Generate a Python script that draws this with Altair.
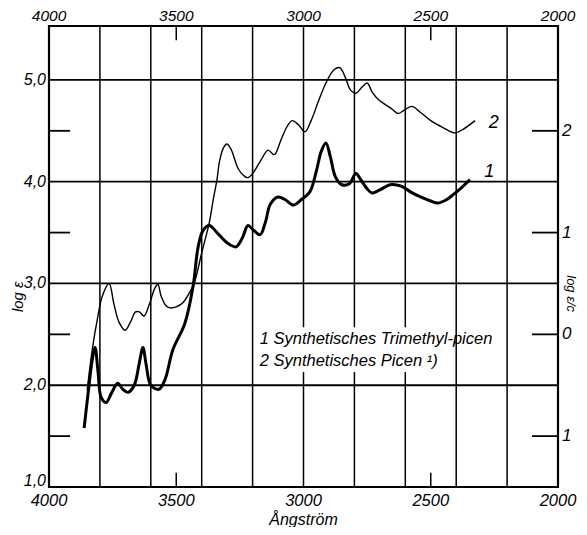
import altair as alt
import pandas as pd

# ---- data ----
# Curve 1: Synthetisches Trimethyl-picen (thick)
wl1 = [3862, 3845, 3830, 3819, 3808, 3795, 3776, 3755, 3730, 3710, 3690, 3665, 3645, 3631,
       3618, 3600, 3568, 3545, 3513, 3466, 3434, 3414, 3395, 3370, 3340, 3300, 3265, 3240,
       3218, 3195, 3170, 3150, 3130, 3100, 3070, 3040, 3010, 2975, 2950, 2930, 2912, 2895,
       2875, 2850, 2820, 2794, 2775, 2750, 2731, 2700, 2660, 2640, 2610, 2580, 2540, 2500,
       2472, 2440, 2413, 2380, 2346]
le1 = [1.58, 1.95, 2.25, 2.37, 2.15, 1.88, 1.83, 1.92, 2.02, 1.96, 1.93, 2.00, 2.22, 2.37,
       2.20, 2.00, 1.96, 2.05, 2.35, 2.61, 2.97, 3.36, 3.52, 3.57, 3.50, 3.40, 3.36, 3.45,
       3.57, 3.52, 3.48, 3.60, 3.78, 3.85, 3.82, 3.77, 3.82, 3.90, 4.10, 4.30, 4.38, 4.25,
       4.05, 3.97, 3.98, 4.08, 4.02, 3.93, 3.89, 3.92, 3.97, 3.97, 3.95, 3.90, 3.85, 3.81,
       3.79, 3.82, 3.87, 3.94, 4.02]

# Curve 2: Synthetisches Picen (thin)
wl2 = [3850, 3830, 3810, 3790, 3764, 3745, 3725, 3701, 3680, 3660, 3645, 3627, 3605, 3585,
       3572, 3560, 3540, 3525, 3500, 3474, 3450, 3430, 3400, 3370, 3355, 3340, 3330, 3315,
       3301, 3285, 3255, 3230, 3218, 3200, 3170, 3139, 3120, 3112, 3090, 3065, 3045, 3020,
       2994, 2970, 2940, 2910, 2880, 2857, 2835, 2815, 2794, 2770, 2750, 2730, 2707, 2680,
       2650, 2629, 2600, 2574, 2540, 2500, 2450, 2405, 2370, 2326]
le2 = [1.95, 2.35, 2.65, 2.88, 3.00, 2.80, 2.62, 2.54, 2.62, 2.72, 2.72, 2.68, 2.80, 2.95,
       2.99, 2.88, 2.78, 2.76, 2.77, 2.81, 2.90, 3.00, 3.30, 3.60, 3.82, 4.02, 4.20, 4.33,
       4.37, 4.32, 4.12, 4.05, 4.04, 4.08, 4.20, 4.31, 4.27, 4.27, 4.40, 4.54, 4.60, 4.56,
       4.49, 4.60, 4.80, 4.98, 5.10, 5.12, 5.02, 4.90, 4.87, 4.93, 4.97, 4.88, 4.81, 4.76,
       4.71, 4.67, 4.71, 4.74, 4.68, 4.60, 4.53, 4.48, 4.52, 4.60]

x_label_values = [4000, 3500, 3000, 2500, 2000]
x_label_texts = ["4000", "3500", "3000", "2500", "2000"]
y_label_values = [2.0, 3.0, 4.0, 5.0]
y_label_texts = ["2,0", "3,0", "4,0", "5,0"]
y_bottom_value = [1.0]
y_bottom_text = ["1,0"]
right_values = [4.5, 3.5, 2.5, 1.5]
right_texts = ["2", "1", "0", "1"]
grid_x = [3800, 3600, 3400, 3200, 3000, 2800, 2600, 2400, 2200]
grid_y = [2.0, 3.0, 4.0, 5.0]
minor_y = [1.5, 2.5, 3.5, 4.5]
short_x = [3500, 2500]
legend_texts = ["1 Synthetisches Trimethyl-picen", "2 Synthetisches Picen \u00b9)"]
legend_y = [2.455, 2.24]
legend_x = 3172
curve_label_texts = ["1", "2"]
curve_label_x = [2290, 2272]
curve_label_y = [4.10, 4.58]

XMIN, XMAX = 4000, 2000
YMIN, YMAX = 1.0, 5.53
FONT = "Liberation Sans"

xs = alt.Scale(domain=[XMIN, XMAX], nice=False, zero=False)
ys = alt.Scale(domain=[YMIN, YMAX], nice=False, zero=False)


def X(f):
    return alt.X(f, type="quantitative", scale=xs, axis=None)


def Y(f):
    return alt.Y(f, type="quantitative", scale=ys, axis=None)


# grid
vgrid = pd.DataFrame({"x": grid_x, "y": [YMIN] * len(grid_x), "y2": [YMAX] * len(grid_x)})
hgrid = pd.DataFrame({"y": grid_y, "x": [XMIN] * len(grid_y), "x2": [XMAX] * len(grid_y)})
lminor = pd.DataFrame({"y": minor_y, "x": [XMIN] * 4, "x2": [3917] * 4})
rminor = pd.DataFrame({"y": minor_y, "x": [2102] * 4, "x2": [XMAX] * 4})
sticks = pd.DataFrame({
    "x": short_x * 2,
    "y": [YMAX, YMAX, YMIN, YMIN],
    "y2": [YMAX - 0.14, YMAX - 0.14, YMIN + 0.14, YMIN + 0.14],
})

rule_v = alt.Chart(vgrid).mark_rule(color="black", strokeWidth=1.5).encode(x=X("x"), y=Y("y"), y2="y2")
rule_h = alt.Chart(hgrid).mark_rule(color="black", strokeWidth=1.8).encode(y=Y("y"), x=X("x"), x2="x2")
rule_lm = alt.Chart(lminor).mark_rule(color="black", strokeWidth=1.8).encode(y=Y("y"), x=X("x"), x2="x2")
rule_rm = alt.Chart(rminor).mark_rule(color="black", strokeWidth=1.8).encode(y=Y("y"), x=X("x"), x2="x2")
rule_s = alt.Chart(sticks).mark_rule(color="black", strokeWidth=1.5).encode(x=X("x"), y=Y("y"), y2="y2")

# white box behind legend text
box = alt.Chart(pd.DataFrame({"x": [3180], "x2": [2420], "y": [2.13], "y2": [2.57]})).mark_rect(
    color="white").encode(x=X("x"), x2="x2", y=Y("y"), y2="y2")

# curves
d1 = pd.DataFrame({"w": wl1, "v": le1, "o": list(range(len(wl1)))})
d2 = pd.DataFrame({"w": wl2, "v": le2, "o": list(range(len(wl2)))})
c1 = alt.Chart(d1).mark_line(color="black", strokeWidth=3, interpolate="catmull-rom").encode(
    x=X("w"), y=Y("v"), order="o:Q")
c2 = alt.Chart(d2).mark_line(color="black", strokeWidth=1.4, interpolate="catmull-rom").encode(
    x=X("w"), y=Y("v"), order="o:Q")

# text
txt = dict(font=FONT, fontStyle="italic", color="black")
xl_top = alt.Chart(pd.DataFrame({"x": x_label_values, "t": x_label_texts, "y": [YMAX] * 5})).mark_text(
    fontSize=15.5, baseline="alphabetic", dy=-5, **txt).encode(x=X("x"), y=Y("y"), text="t")
xl_bot = alt.Chart(pd.DataFrame({"x": x_label_values, "t": x_label_texts, "y": [YMIN] * 5})).mark_text(
    fontSize=16.5, baseline="alphabetic", dy=19, **txt).encode(x=X("x"), y=Y("y"), text="t")
yl = alt.Chart(pd.DataFrame({"y": y_label_values, "t": y_label_texts, "x": [XMIN] * 4})).mark_text(
    fontSize=16, align="right", baseline="middle", dx=-3, **txt).encode(x=X("x"), y=Y("y"), text="t")
yl1 = alt.Chart(pd.DataFrame({"y": y_bottom_value, "t": y_bottom_text, "x": [XMIN]})).mark_text(
    fontSize=16, align="right", baseline="bottom", dx=-3, dy=2, **txt).encode(x=X("x"), y=Y("y"), text="t")
rl = alt.Chart(pd.DataFrame({"y": right_values, "t": right_texts, "x": [XMAX] * 4})).mark_text(
    fontSize=17, align="left", baseline="middle", dx=4, **txt).encode(x=X("x"), y=Y("y"), text="t")

xtitle = alt.Chart(pd.DataFrame({"x": [3000], "y": [YMIN], "t": ["\u00c5ngstr\u00f6m"]})).mark_text(
    fontSize=16, baseline="alphabetic", dy=38, **txt).encode(x=X("x"), y=Y("y"), text="t")
ytitle = alt.Chart(pd.DataFrame({"x": [XMIN], "y": [2.87], "t": ["log \u03b5"]})).mark_text(
    fontSize=15, angle=270, baseline="middle", dy=-31, **txt).encode(x=X("x"), y=Y("y"), text="t")
rtitle = alt.Chart(pd.DataFrame({"x": [XMAX], "y": [2.9], "t": ["log \u03b5/c"]})).mark_text(
    fontSize=13, angle=90, baseline="middle", dy=-13, **txt).encode(x=X("x"), y=Y("y"), text="t")

leg = alt.Chart(pd.DataFrame({"x": [legend_x] * 2, "y": legend_y, "t": legend_texts})).mark_text(
    fontSize=16.5, align="left", baseline="middle", **txt).encode(x=X("x"), y=Y("y"), text="t")
cl = alt.Chart(pd.DataFrame({"x": curve_label_x, "y": curve_label_y, "t": curve_label_texts})).mark_text(
    fontSize=18, align="left", baseline="middle", **txt).encode(x=X("x"), y=Y("y"), text="t")

chart = alt.layer(
    rule_v, rule_h, rule_lm, rule_rm, rule_s, box, c2, c1,
    xl_top, xl_bot, yl, yl1, rl, xtitle, ytitle, rtitle, leg, cl,
).properties(
    width=509, height=461,
    autosize=alt.AutoSizeParams(type="none"),
    padding={"left": 41, "top": 18, "right": 21, "bottom": 40},
).configure_view(stroke="black", strokeWidth=2.2)

chart.save("out.html", embed_options={"renderer": "svg", "actions": False})
